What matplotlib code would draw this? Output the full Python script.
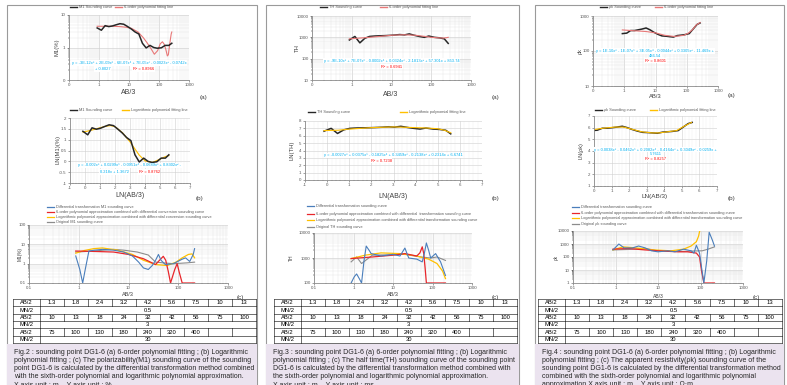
import matplotlib
matplotlib.use("Agg")
import matplotlib.pyplot as plt
import numpy as np
from matplotlib.ticker import FuncFormatter, LogLocator, NullFormatter

plt.rcParams["font.family"] = ["Liberation Sans", "DejaVu Sans"]

W, H = 787, 385

# sounding abscissa (AB/3) for the 21 measuring points
ab3 = [0.87, 1.2, 1.6, 2.13, 2.8, 3.73, 5.0, 6.67, 8.67, 12, 16, 21.3, 28, 37.3,
       50, 66.7, 86.7, 120, 160, 213, 267]

# ---- Fig.2 : M1 ----
m1 = [4.0, 3.4, 4.7, 4.4, 4.6, 5.0, 5.4, 5.2, 4.5, 3.7, 3.0, 2.6, 1.35, 0.97,
      1.16, 1.0, 0.95, 0.98, 1.16, 1.16, 1.35]
m1_fit_x = [0.87, 1.5, 3, 5, 8, 12, 20, 30, 40, 55, 70, 90, 110, 130, 150, 170, 190, 205, 220, 240, 255, 267]
m1_fit_y = [4.5, 4.5, 4.5, 4.4, 4.2, 3.9, 3.0, 2.0, 1.4, 0.9, 0.62, 0.8, 1.3, 1.5, 1.25, 0.85, 0.55, 0.6, 1.0, 1.8, 2.6, 3.0]
m1_log_x = [-0.14, 0.2, 0.5, 1.0, 1.4, 1.7, 2.0, 2.5, 3.0, 3.3, 3.6, 4.0, 4.5, 5.0, 5.3, 5.59]
m1_log_y = [1.35, 1.4, 1.45, 1.55, 1.62, 1.65, 1.6, 1.32, 0.9, 0.6, 0.3, 0.02, -0.05, 0.1, 0.2, 0.27]
m1_diff_x = [0.87, 1.05, 1.2, 1.35, 1.6, 2.1, 3, 5, 8, 12, 16, 20, 25, 30, 35, 40, 45, 55, 80, 120, 140, 170, 200, 213]
m1_diff_y = [2.5, 0.5, 0.1, 0.5, 4.5, 5.0, 5.5, 5.0, 4.0, 2.5, 1.2, 0.6, 0.5, 0.8, 1.5, 3.0, 1.5, 0.9, 1.0, 1.7, 2.0, 1.3, 3.0, 6.0]
m1_six_x = [0.87, 2, 5, 10, 20, 35, 42, 50, 56, 63, 70, 85, 95, 105, 120, 150, 213]
m1_six_y = [4.5, 4.3, 4.0, 3.0, 1.8, 0.9, 1.5, 2.4, 1.5, 0.4, 0.1, 0.5, 1.0, 0.35, 0.1, 0.1, 0.1]
m1_lg_x = [0.87, 1.3, 2, 3, 6, 12, 20, 35, 60, 90, 120, 160, 190, 213]
m1_lg_y = [3.5, 4.8, 6.0, 6.5, 5.0, 3.0, 1.5, 0.9, 0.8, 1.2, 2.0, 3.0, 3.2, 2.0]
m1_org_x = [0.87, 2, 5, 8, 15, 25, 35, 50, 80, 150, 213]
m1_org_y = [4.0, 4.5, 5.5, 5.0, 4.0, 2.8, 1.2, 1.1, 1.0, 1.1, 1.2]

# ---- Fig.3 : TH ----
th = [750, 1100, 550, 900, 1100, 1150, 1180, 1200, 1230, 1280, 1350, 1300, 1450,
      1250, 1100, 1000, 1150, 1000, 950, 850, 520]
th_fit_x = [0.87, 2, 5, 10, 20, 40, 70, 100, 150, 200, 240, 267]
th_fit_y = [850, 950, 1100, 1250, 1320, 1250, 1100, 1000, 950, 920, 960, 1000]
th_log_x = [-0.14, 0.5, 1.0, 2.0, 3.0, 4.0, 4.5, 5.0, 5.3, 5.59]
th_log_y = [6.7, 6.75, 6.9, 7.1, 7.2, 7.1, 7.05, 6.95, 6.75, 6.4]
th_diff_x = [0.87, 1.05, 1.2, 1.4, 1.6, 1.85, 2.1, 2.5, 2.8, 5, 10, 15, 20, 25, 40, 55, 62, 70, 80, 90, 120, 160, 213]
th_diff_y = [100, 180, 230, 150, 100, 800, 3000, 2000, 1500, 1200, 1400, 1200, 2500, 1000, 900, 700, 1500, 4000, 2000, 1000, 1500, 700, 200]
th_six_x = [0.87, 3, 10, 20, 40, 48, 55, 60, 65, 70, 100, 213]
th_six_y = [950, 1100, 1300, 1500, 1200, 1600, 2800, 1500, 400, 100, 100, 100]
th_lg_x = [0.87, 2, 5, 15, 40, 80, 130, 180, 213]
th_lg_y = [950, 1300, 1600, 1500, 1200, 900, 600, 300, 150]
th_org_x = [0.87, 1.2, 1.6, 3, 10, 20, 50, 90, 130, 213]
th_org_y = [700, 1100, 600, 1300, 1350, 1400, 1100, 1000, 1100, 800]

# ---- Fig.4 : rho_k ----
rk = [314, 324, 384, 384, 403, 424, 455, 403, 347, 299, 270, 265, 257, 250, 276,
      284, 293, 314, 424, 572, 633]
rk_fit_x = [0.87, 2, 5, 10, 20, 40, 80, 110, 150, 200, 267]
rk_fit_y = [400, 380, 360, 330, 280, 260, 280, 320, 400, 550, 650]
rk_log_x = [-0.14, 0.5, 1.2, 1.7, 2.2, 2.7, 3.3, 3.7, 4.2, 4.7, 5.1, 5.55]
rk_log_y = [5.8, 5.95, 6.05, 6.05, 5.85, 5.65, 5.55, 5.55, 5.65, 5.75, 6.1, 6.45]
rk_diff_x = [0.87, 1.2, 1.6, 2.5, 3.5, 5, 7, 10, 17, 25, 40, 60, 70, 80, 95, 108, 120, 140, 160, 190, 213]
rk_diff_y = [350, 1000, 500, 500, 700, 500, 300, 250, 300, 250, 400, 300, 200, 800, 200, 10, 1, 50, 8000, 2000, 700]
rk_six_x = [0.87, 2, 5, 10, 30, 50, 80, 95, 105, 120, 213]
rk_six_y = [400, 450, 350, 300, 250, 250, 200, 100, 10, 1, 1]
rk_lg_x = [0.87, 1.5, 3, 8, 20, 40, 60, 80, 90, 97]
rk_lg_y = [350, 600, 500, 350, 300, 400, 700, 1500, 4000, 12000]
rk_org_x = [0.87, 2, 5, 10, 20, 40, 70, 110, 150, 213]
rk_org_y = [350, 380, 450, 300, 270, 270, 290, 300, 400, 600]

# electrode spacing table
ab_row1 = ["1.3", "1.8", "2.4", "3.2", "4.2", "5.6", "7.5", "10", "13"]
ab_row2 = ["10", "13", "18", "24", "32", "42", "56", "75", "100"]
ab_row3 = ["75", "100", "130", "180", "240", "320", "400", "", ""]
mn_vals = ["0.5", "3", "30"]

captions = [
    ["Fig.2 : sounding point DG1-6 (a) 6-order polynomial fitting ; (b) Logarithmic",
     "polynomial fitting ; (c) The polarizability(M1) sounding curve of the sounding",
     "point DG1-6 is calculated by the differential transformation method combined",
     "with the sixth-order polynomial and logarithmic polynomial approximation.",
     "X axis unit : m ,  Y axis unit : %"],
    ["Fig.3 : sounding point DG1-6 (a) 6-order polynomial fitting ; (b) Logarithmic",
     "polynomial fitting ; (c) The half time(TH) sounding curve of the sounding point",
     "DG1-6 is calculated by the differential transformation method combined with",
     "the sixth-order polynomial and logarithmic polynomial approximation.",
     "X axis unit : m ,  Y axis unit : ms"],
    ["Fig.4 : sounding point DG1-6 (a) 6-order polynomial fitting ; (b) Logarithmic",
     "polynomial fitting ; (c) The apparent resistivity(\u03c1k) sounding curve of the",
     "sounding point DG1-6 is calculated by the differential transformation method",
     "combined with the sixth-order polynomial and logarithmic polynomial",
     "approximation.X axis unit : m ,  Y axis unit : \u03a9\u00b7m"],
]

BLUE = "#4a7ebb"
RED = "#e8262b"
YELLOW = "#ffc000"
GREY = "#8c8c8c"
BLACK = "#262626"
PINK = "#e87878"
CYAN = "#00b0f0"
TICK = 3.2


def rect(x0, y0, x1, y1):
    return [x0 / W, 1 - y1 / H, (x1 - x0) / W, (y1 - y0) / H]


def fx(x):
    return x / W


def fy(y):
    return 1 - y / H


def excel_fmt(v, pos):
    if v < 1:
        return "0"
    return f"{v:g}"


def style(ax):
    for s in ["top", "right"]:
        ax.spines[s].set_visible(False)
    for s in ["left", "bottom"]:
        ax.spines[s].set_color("#8c8c8c")
        ax.spines[s].set_linewidth(0.6)
    ax.tick_params(labelsize=TICK, length=1.5, width=0.4, pad=1, colors="#595959")
    ax.tick_params(which="minor", length=1, width=0.3)
    ax.set_facecolor("white")


def log_axes(box, xlim, ylim, zero_x=True, zero_y=False):
    ax = fig.add_axes(rect(*box))
    ax.set_xscale("log")
    ax.set_yscale("log")
    ax.set_xlim(*xlim)
    ax.set_ylim(*ylim)
    ax.xaxis.set_major_locator(LogLocator(10))
    ax.yaxis.set_major_locator(LogLocator(10))
    ax.xaxis.set_minor_locator(LogLocator(10, subs=np.arange(2, 10)))
    ax.yaxis.set_minor_locator(LogLocator(10, subs=np.arange(2, 10)))
    ax.xaxis.set_minor_formatter(NullFormatter())
    ax.yaxis.set_minor_formatter(NullFormatter())
    if zero_x:
        ax.xaxis.set_major_formatter(FuncFormatter(excel_fmt))
    else:
        ax.xaxis.set_major_formatter(FuncFormatter(lambda v, p: f"{v:g}"))
    if zero_y:
        ax.yaxis.set_major_formatter(FuncFormatter(excel_fmt))
    else:
        ax.yaxis.set_major_formatter(FuncFormatter(lambda v, p: f"{v:g}"))
    ax.grid(True, which="major", color="#c8c8c8", lw=0.4)
    ax.grid(True, which="minor", color="#e4e4e4", lw=0.3)
    ax.set_axisbelow(True)
    style(ax)
    return ax


def lin_axes(box, xlim, ylim, ystep):
    ax = fig.add_axes(rect(*box))
    ax.set_xlim(*xlim)
    ax.set_ylim(*ylim)
    ax.set_xticks(np.arange(xlim[0], xlim[1] + 0.1, 1))
    ax.set_yticks(np.arange(ylim[0], ylim[1] + 0.01, ystep))
    ax.set_xticks(np.arange(xlim[0], xlim[1], 0.2), minor=True)
    ax.xaxis.set_major_formatter(FuncFormatter(lambda v, p: f"{v:g}"))
    ax.yaxis.set_major_formatter(FuncFormatter(lambda v, p: f"{v:g}"))
    ax.grid(True, which="major", color="#d0d0d0", lw=0.4)
    ax.grid(True, which="minor", axis="x", color="#ececec", lw=0.3)
    ax.set_axisbelow(True)
    style(ax)
    return ax


def top_legend(y, x0, items, gap):
    # items: (label, color)
    x = x0
    for label, color in items:
        fig.lines.append(plt.Line2D([fx(x), fx(x + 7)], [fy(y), fy(y)], color=color,
                                    lw=1.0, transform=fig.transFigure))
        fig.text(fx(x + 9), fy(y), label, fontsize=2.8, va="center", color="#595959")
        x += gap


def stack_legend(x0, ys, items):
    for y, (label, color) in zip(ys, items):
        fig.lines.append(plt.Line2D([fx(x0), fx(x0 + 7)], [fy(y), fy(y)], color=color,
                                    lw=0.9, transform=fig.transFigure))
        fig.text(fx(x0 + 9), fy(y), label, fontsize=2.8, va="center", color="#595959")


def equation(ax, x, y, lines, r2_pos):
    for i, t in enumerate(lines):
        ax.text(x[i], y[i], t, transform=ax.transAxes, fontsize=2.9, color=CYAN,
                ha="center", va="center",
                bbox=dict(boxstyle="square,pad=0.15", fc="white", ec="none"))
    ax.text(r2_pos[0], r2_pos[1], r2_pos[2], transform=ax.transAxes, fontsize=2.9,
            color="#ff0000", ha="center", va="center",
            bbox=dict(boxstyle="square,pad=0.15", fc="white", ec="none"))


def table(x0, x1, y0, y1):
    nrows = 6
    rh = (y1 - y0) / nrows
    c0 = x0 + (x1 - x0) * 0.11
    cw = (x1 - c0) / 9
    kw = dict(color="black", lw=0.4, transform=fig.transFigure)
    for i in range(nrows + 1):
        fig.lines.append(plt.Line2D([fx(x0), fx(x1)], [fy(y0 + i * rh)] * 2, **kw))
    fig.lines.append(plt.Line2D([fx(x0)] * 2, [fy(y0), fy(y1)], **kw))
    fig.lines.append(plt.Line2D([fx(x1)] * 2, [fy(y0), fy(y1)], **kw))
    fig.lines.append(plt.Line2D([fx(c0)] * 2, [fy(y0), fy(y1)], **kw))
    for r, row in enumerate([ab_row1, ab_row2, ab_row3]):
        ya = y0 + 2 * r * rh
        for j in range(1, 9):
            xx = c0 + j * cw
            fig.lines.append(plt.Line2D([fx(xx)] * 2, [fy(ya), fy(ya + rh)], **kw))
        fig.text(fx((x0 + c0) / 2), fy(ya + rh / 2), "AB/2", fontsize=4.2,
                 ha="center", va="center")
        fig.text(fx((x0 + c0) / 2), fy(ya + 1.5 * rh), "MN/2", fontsize=4.2,
                 ha="center", va="center")
        for j, v in enumerate(row):
            fig.text(fx(c0 + (j + 0.5) * cw), fy(ya + rh / 2), v, fontsize=4.2,
                     ha="center", va="center")
        fig.text(fx((c0 + x1) / 2), fy(ya + 1.5 * rh), mn_vals[r], fontsize=4.2,
                 ha="center", va="center")


def caption(x0, x1, y0, lines):
    fig.patches.append(plt.Rectangle((fx(x0), 0), fx(x1 - x0), fy(y0), fc="#ebe3ef",
                                     ec="none", transform=fig.transFigure, zorder=-5))
    for i, t in enumerate(lines):
        fig.text(fx(x0 + 7), fy(y0 + 8 + i * 8.2), t, fontsize=5.0, va="center",
                 color="#262626")


def label_text(x, y, t, size=5.0, rot=0):
    fig.text(fx(x), fy(y), t, fontsize=size, ha="center", va="center", rotation=rot,
             color="#404040")


fig = plt.figure(figsize=(W / 100, H / 100), dpi=100, facecolor="white")

# panel frames
for x0, x1 in [(7, 257), (266, 519), (535, 784)]:
    fig.patches.append(plt.Rectangle((fx(x0), 0), fx(x1 - x0), fy(5), fc="white",
                                     ec="#9a9a9a", lw=0.8, transform=fig.transFigure,
                                     zorder=-10))

ab3_ln = np.log(ab3)

# ================= Fig.2 =================
ax = log_axes((69, 15, 189, 80), (0.1, 1000), (0.1, 10), zero_x=True, zero_y=True)
ax.plot(m1_fit_x, m1_fit_y, color=PINK, lw=0.8)
ax.plot(ab3, m1, color=BLACK, lw=1.1)
equation(ax, [0.5, 0.28], [0.26, 0.17],
         ["y = -3E-12x\u2076 + 2E-09x\u2075 - 6E-07x\u2074 + 7E-05x\u00b3 - 0.0023x\u00b2 - 0.0742x",
          "+ 0.8027"], (0.62, 0.17, "R\u00b2 = 0.8966"))
top_legend(7, 70, [("M1 Sounding curve", BLACK), ("6-order polynomial fitting line", PINK)], 45)
label_text(129, 93, "AB/3")
label_text(57, 47, "M1(%)", size=4.2, rot=90)
label_text(203, 97, "(a)", size=4.6)

ax = lin_axes((70, 118, 190, 183), (-1, 7), (-1, 2), 0.5)
ax.plot(m1_log_x, m1_log_y, color=YELLOW, lw=0.8)
ax.plot(ab3_ln, np.log(m1), color=BLACK, lw=1.1)
equation(ax, [0.5, 0.37], [0.27, 0.17],
         ["y = -0.002x\u2076 + 0.0299x\u2075 - 0.0951x\u2074 - 0.0689x\u00b3 + 0.8302x\u00b2 -",
          "0.218x + 1.3672"], (0.66, 0.17, "R\u00b2 = 0.8762"))
top_legend(110, 70, [("M1 Sounding curve", BLACK), ("Logarithmic polynomial fitting line", YELLOW)], 52)
label_text(130, 196, "LN(AB/3)")
label_text(58, 150, "LN(M1)(%)", size=4.2, rot=90)
label_text(200, 199, "(b)", size=4.6)

ax = log_axes((29, 225, 228, 283), (0.1, 1000), (0.1, 100), zero_x=False)
ax.plot(m1_org_x, m1_org_y, color=GREY, lw=0.8)
ax.plot(m1_lg_x, m1_lg_y, color=YELLOW, lw=0.9)
ax.plot(m1_six_x, m1_six_y, color=RED, lw=0.9)
ax.plot(m1_diff_x, m1_diff_y, color=BLUE, lw=0.8)
stack_legend(47, [207, 212, 217, 222], [
    ("Differential transformation M1 sounding curve", BLUE),
    ("6-order polynomial approximation combined with differential conversion sounding curve", RED),
    ("Logarithmic polynomial approximation combined with differential conversion sounding curve", YELLOW),
    ("Original M1 sounding curve", GREY)])
label_text(128, 295, "AB/3", size=4.0)
label_text(20, 254, "M1(%)", size=3.4, rot=90)
label_text(240, 297, "(c)", size=4.6)

table(13, 256, 299, 343)
caption(7, 257, 344, captions[0])

# ================= Fig.3 =================
ax = log_axes((312, 16, 471, 80), (0.1, 1000), (10, 10000), zero_x=True)
ax.plot(ab3, th, color=BLACK, lw=1.1)
ax.plot(th_fit_x, th_fit_y, color=PINK, lw=0.8)
equation(ax, [0.5], [0.3],
         ["y = -9E-10x\u2076 + 7E-07x\u2075 - 0.0002x\u2074 + 0.0324x\u00b3 - 2.1813x\u00b2 + 57.301x + 853.74"],
         (0.5, 0.21, "R\u00b2 = 0.6941"))
top_legend(7, 320, [("TH Sounding curve", BLACK), ("6-order polynomial fitting line", PINK)], 60)
label_text(391, 95, "AB/3")
label_text(297, 48, "TH", size=4.2, rot=90)
label_text(495, 97, "(a)", size=4.6)

ax = lin_axes((305, 121, 482, 180), (-1, 7), (0, 8), 1)
ax.plot(ab3_ln, np.log(th), color=BLACK, lw=1.1)
ax.plot(th_log_x, th_log_y, color=YELLOW, lw=0.8)
equation(ax, [0.5], [0.42],
         ["y = -0.0027x\u2076 + 0.0375x\u2075 - 0.1825x\u2074 + 0.3459x\u00b3 - 0.2138x\u00b2 + 0.2314x + 6.6741"],
         (0.43, 0.33, "R\u00b2 = 0.7238"))
top_legend(112, 308, [("TH Sounding curve", BLACK), ("Logarithmic polynomial fitting line", YELLOW)], 92)
label_text(393, 197, "LN(AB/3)")
label_text(292, 150, "LN(TH)", size=4.2, rot=90)
label_text(495, 199, "(b)", size=4.6)

ax = log_axes((314, 233, 472, 283), (0.1, 1000), (100, 10000), zero_x=False)
ax.plot(th_org_x, th_org_y, color=GREY, lw=0.8)
ax.plot(th_lg_x, th_lg_y, color=YELLOW, lw=0.9)
ax.plot(th_six_x, th_six_y, color=RED, lw=0.9)
ax.plot(th_diff_x, th_diff_y, color=BLUE, lw=0.8)
stack_legend(307, [206, 214, 220, 227], [
    ("Differential transformation sounding curve", BLUE),
    ("6-order polynomial approximation combined with differential  transformation sounding curve", RED),
    ("Logarithmic polynomial approximation combined with differential transformation sounding curve", YELLOW),
    ("Original TH sounding curve", GREY)])
label_text(393, 295, "AB/3", size=4.0)
label_text(291, 258, "TH", size=3.6, rot=90)
label_text(495, 297, "(c)", size=4.6)

table(274, 517, 299, 343)
caption(266, 519, 344, captions[1])

# ================= Fig.4 =================
ax = log_axes((593, 16, 718, 86), (0.1, 1000), (10, 1000), zero_x=True)
ax.plot(ab3, rk, color=BLACK, lw=1.1)
ax.plot(rk_fit_x, rk_fit_y, color=PINK, lw=0.8)
equation(ax, [0.5, 0.5], [0.5, 0.43],
         ["y = 1E-10x\u2076 - 1E-07x\u2075 + 3E-05x\u2074 - 0.0044x\u00b3 + 0.3305x\u00b2 - 11.469x +",
          "486.54"], (0.5, 0.36, "R\u00b2 = 0.8601"))
top_legend(7, 600, [("\u03c1k Sounding curve", BLACK), ("6-order polynomial fitting line", PINK)], 55)
label_text(655, 97, "AB/3", size=4.2)
label_text(580, 51, "\u03c1k", size=4.0, rot=90)
label_text(731, 96, "(a)", size=4.6)

ax = lin_axes((594, 116, 717, 186), (0, 7), (1, 7), 1)
ax.plot(ab3_ln, np.log(rk), color=BLACK, lw=1.1)
ax.plot(rk_log_x, rk_log_y, color=YELLOW, lw=0.8)
equation(ax, [0.5, 0.5], [0.52, 0.45],
         ["y = 0.0038x\u2076 - 0.0462x\u2075 + 0.2082x\u2074 - 0.4164x\u00b3 + 0.3049x\u00b2 - 0.0259x +",
          "5.7611"], (0.5, 0.38, "R\u00b2 = 0.8257"))
top_legend(110, 595, [("\u03c1k Sounding curve", BLACK), ("Logarithmic polynomial fitting line", YELLOW)], 55)
label_text(655, 197, "LN(AB/3)", size=4.6)
label_text(581, 151, "LN(\u03c1k)", size=4.0, rot=90)
label_text(731, 199, "(b)", size=4.6)

ax = log_axes((573, 231, 743, 283), (0.1, 1000), (1, 10000), zero_x=False)
ax.plot(rk_org_x, rk_org_y, color=GREY, lw=0.8)
ax.plot(rk_lg_x, rk_lg_y, color=YELLOW, lw=0.9)
ax.plot(rk_six_x, rk_six_y, color=RED, lw=0.9)
ax.plot(rk_diff_x, rk_diff_y, color=BLUE, lw=0.8)
stack_legend(572, [207, 213, 218, 224], [
    ("Differential transformation sounding curve", BLUE),
    ("6-order polynomial approximation combined with differential transformation sounding curve", RED),
    ("Logarithmic polynomial approximation combined with differential transformation sounding curve", YELLOW),
    ("Original \u03c1k sounding curve", GREY)])
label_text(658, 296, "AB/3", size=3.6)
label_text(556, 257, "\u03c1k", size=3.4, rot=90)
label_text(756, 297, "(c)", size=4.6)

table(538, 782, 299, 343)
caption(535, 784, 344, captions[2])

fig.savefig("out.png", dpi=100, facecolor="white")
